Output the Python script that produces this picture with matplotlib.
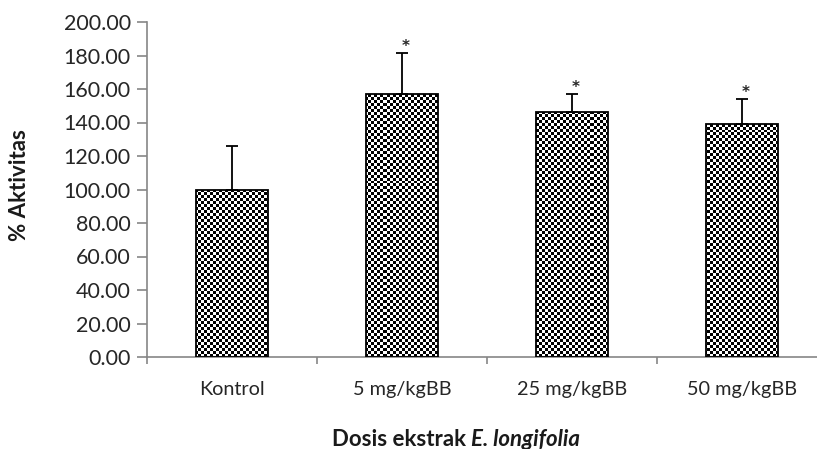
import numpy as np
import matplotlib.pyplot as plt

# data
groups = ['Kontrol', '5 mg/kgBB', '25 mg/kgBB', '50 mg/kgBB']
aktivitas = [100.0, 157.0, 146.5, 139.0]
sd = [26.0, 24.5, 10.5, 15.0]
signif = ['', '*', '*', '*']

plt.rcParams['font.family'] = ['Lato', 'DejaVu Sans']

fig = plt.figure(figsize=(8.17, 4.49), dpi=100)
ax = fig.add_axes([147 / 817, 1 - 357 / 449, 680 / 817, 335 / 449])

x = np.arange(len(groups))
bars = ax.bar(x, aktivitas, width=0.42, facecolor='none', edgecolor='black',
              linewidth=1.3, zorder=3)
ax.errorbar(x, aktivitas, yerr=[np.zeros(len(sd)), sd], fmt='none',
            ecolor='black', elinewidth=1.3, capsize=4.5, capthick=1.3, zorder=2)

ax.set_xlim(-0.5, len(groups) - 0.5)
ax.set_ylim(0, 200)

# checkerboard fill, clipped to each bar
rows, cols = 112, 227
checker = np.indices((rows, cols)).sum(axis=0) % 2
for b in bars:
    im = ax.imshow(checker, cmap='gray', interpolation='nearest', aspect='auto',
                   extent=[-0.5, len(groups) - 0.5, 0, 200], zorder=1)
    im.set_clip_path(b)

for xi, v, e, s in zip(x, aktivitas, sd, signif):
    if s:
        ax.annotate(s, xy=(xi, v + e), xytext=(3, -1), textcoords='offset points',
                    ha='center', va='bottom', fontsize=11, fontweight='bold',
                    family='DejaVu Sans', color='#262626')

ax.set_yticks(np.arange(0, 201, 20))
ax.set_yticklabels([f'{t:.2f}' for t in np.arange(0, 201, 20)])
ax.set_xticks(x)
ax.set_xticklabels(groups)
ax.set_xticks(np.arange(-0.5, len(groups), 1), minor=True)

for side in ['top', 'right']:
    ax.spines[side].set_visible(False)
for side in ['left', 'bottom']:
    ax.spines[side].set_color('#868686')
    ax.spines[side].set_linewidth(1.2)

ax.tick_params(axis='y', direction='out', length=7.2, width=1.2, color='#868686',
               labelsize=15.5, labelcolor='#262626', pad=4.5)
ax.tick_params(axis='x', which='major', length=0, labelsize=14.3,
               labelcolor='#262626', pad=17)
ax.tick_params(axis='x', which='minor', direction='out', length=5, width=1.2,
               color='#868686')

fig.text(20 / 817, 1 - 185 / 449, '% Aktivitas', rotation=90, ha='center',
         va='center', fontsize=16, fontweight='bold', color='#1a1a1a')
t1 = fig.text(332 / 817, 1 - 439 / 449, 'Dosis ekstrak ', ha='left',
              va='center', fontsize=16, fontweight='bold', color='#1a1a1a')
ax.annotate('E. longifolia', xy=(1, 0), xycoords=t1, ha='left', va='bottom',
            fontsize=16, fontweight='bold', fontstyle='italic', color='#1a1a1a')

fig.savefig('out.png', dpi=100)
